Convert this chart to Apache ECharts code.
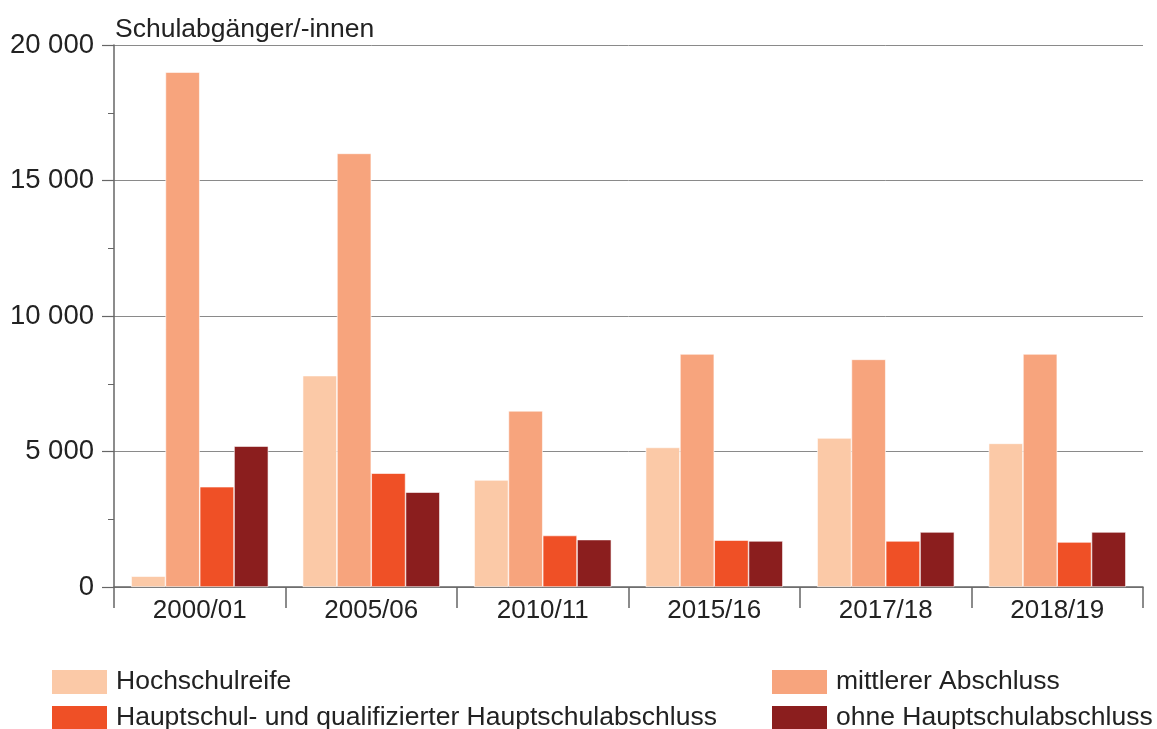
<!DOCTYPE html>
<html>
<head>
<meta charset="utf-8">
<script src="https://cdn.jsdelivr.net/npm/echarts@6/dist/echarts.min.js"></script>
<style>
  html, body { margin: 0; padding: 0; background: #fff; }
  #chart { width: 1157px; height: 729px; }
</style>
</head>
<body>
<div id="chart"></div>
<script>
// Daten
var years = ['2000/01', '2005/06', '2010/11', '2015/16', '2017/18', '2018/19'];
var hochschulreife = [400, 7800, 3950, 5150, 5500, 5300];
var mittlererAbschluss = [19000, 16000, 6500, 8600, 8400, 8600];
var hauptschulabschluss = [3700, 4200, 1900, 1730, 1700, 1660];
var ohneAbschluss = [5200, 3500, 1750, 1700, 2030, 2030];
var seriesNames = [
  'Hochschulreife',
  'mittlerer Abschluss',
  'Hauptschul- und qualifizierter Hauptschulabschluss',
  'ohne Hauptschulabschluss'
];
var colors = ['#fbc9a7', '#f7a47d', '#ef5026', '#8b1e1e'];
var font = 'Liberation Sans, Arial, sans-serif';

var chart = echarts.init(document.getElementById('chart'));

function bar(name, data, i) {
  return {
    name: name,
    type: 'bar',
    data: data,
    barGap: 0,
    barCategoryGap: '20%',
    itemStyle: { color: colors[i], borderColor: '#fff', borderWidth: 0.6 },
    emphasis: { disabled: true }
  };
}

var legendText = { color: '#222', fontSize: 26.5, fontFamily: font, padding: [0, 0, 0, 3] };

function legendCol(names, left) {
  return {
    data: names,
    orient: 'vertical',
    left: left,
    top: 668,
    height: 70,
    padding: 0,
    itemWidth: 57,
    itemHeight: 26,
    itemGap: 8,
    icon: 'rect',
    selectedMode: false,
    textStyle: legendText
  };
}

chart.setOption({
  animation: false,
  color: colors,
  textStyle: { fontFamily: font },
  title: {
    text: 'Schulabgänger/-innen',
    left: 110,
    top: 11,
    textStyle: { color: '#222', fontSize: 26.5, fontWeight: 'normal', fontFamily: font }
  },
  legend: [
    legendCol([seriesNames[0], seriesNames[2]], 50),
    legendCol([seriesNames[1], seriesNames[3]], 770)
  ],
  grid: { left: 114, right: 14, top: 45, bottom: 142 },
  xAxis: {
    type: 'category',
    data: years,
    axisLine: { lineStyle: { color: '#666', width: 1.5 } },
    axisTick: { show: true, length: 21, lineStyle: { color: '#666', width: 1.5 } },
    axisLabel: { color: '#222', fontSize: 26, margin: 11, fontFamily: font }
  },
  yAxis: {
    type: 'value',
    min: 0,
    max: 20000,
    interval: 5000,
    axisLine: { show: true, lineStyle: { color: '#666', width: 1.5 } },
    axisTick: { show: true, length: 12, lineStyle: { color: '#666', width: 1.2 } },
    minorTick: { show: true, splitNumber: 2, length: 6, lineStyle: { color: '#666', width: 1 } },
    splitLine: { lineStyle: { color: '#8a8a8a', width: 1 } },
    axisLabel: {
      color: '#222',
      fontSize: 27.5,
      margin: 20,
      fontFamily: font,
      formatter: function (v) {
        return String(v).replace(/\B(?=(\d{3})+(?!\d))/g, ' ');
      }
    }
  },
  series: [
    bar(seriesNames[0], hochschulreife, 0),
    bar(seriesNames[1], mittlererAbschluss, 1),
    bar(seriesNames[2], hauptschulabschluss, 2),
    bar(seriesNames[3], ohneAbschluss, 3)
  ]
});
</script>
</body>
</html>
